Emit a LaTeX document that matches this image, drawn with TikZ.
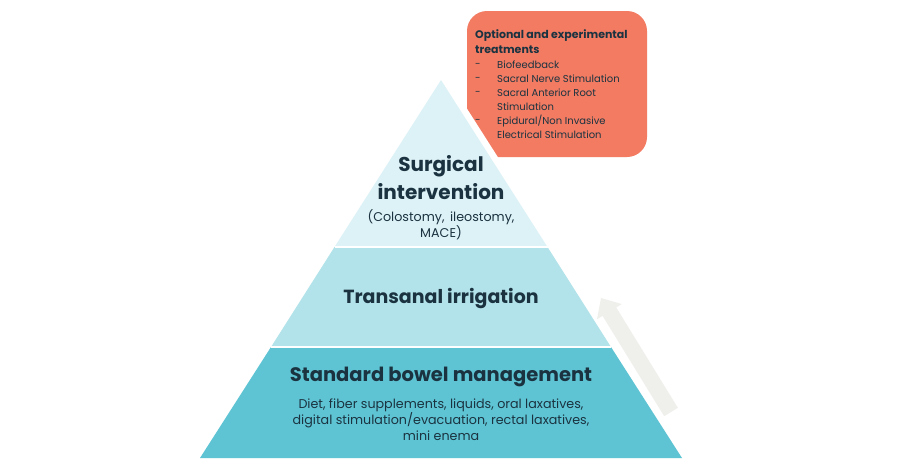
\documentclass[tikz,border=0pt]{standalone}
\usepackage{fontspec}
\setmainfont{Poppins}
\usetikzlibrary{arrows.meta, positioning}
\definecolor{tiertop}{HTML}{DDF2F7}
\definecolor{tiermid}{HTML}{B3E3EA}
\definecolor{tierlow}{HTML}{5EC4D4}
\definecolor{boxred}{HTML}{F27B62}
\definecolor{inkdark}{HTML}{1B3340}
\definecolor{arrowgray}{HTML}{EFEFEB}

\tikzset{
  tiertitle/.style={font=\bfseries\fontsize{19.5}{26}\selectfont, text=inkdark, align=center, inner sep=0pt},
  tiertext/.style={font=\fontsize{12.7}{16}\selectfont, text=inkdark, align=center, inner sep=0pt},
  listitem/.style={font=\fontsize{10}{12}\selectfont, text=inkdark, anchor=west, inner sep=0pt}
}

\begin{document}
\begin{tikzpicture}[x=1pt, y=-1pt]
				\useasboundingbox[fill=white] (0,0) rectangle (900,466);

				% optional treatments box (behind the pyramid)
				\fill[boxred, rounded corners=20] (467,11) rectangle (647,157);
				\node[font=\bfseries\fontsize{11}{15}\selectfont, text=inkdark, anchor=north west, align=left, inner sep=0pt]
				  (opttitle) at (475,29) {Optional and experimental\\treatments};
				\node[listitem] (optone) at (475,65) {-};
				\node[listitem] (opttwo) at (475,79) {-};
				\node[listitem] (optthree) at (475,93) {-};
				\node[listitem] (optfour) at (475,121) {-};
				\node[listitem] (bio) at (497,65) {Biofeedback};
				\node[listitem] (sns) at (497,79) {Sacral Nerve Stimulation};
				\node[listitem] (sar) at (497,93) {Sacral Anterior Root};
				\node[listitem] (sartwo) at (497,107) {Stimulation};
				\node[listitem] (epi) at (497,121) {Epidural/Non Invasive};
				\node[listitem] (epitwo) at (497,135) {Electrical Stimulation};

				% pyramid
				\coordinate (apex) at (441,80);
				\coordinate (baseleft) at (200,458);
				\coordinate (baseright) at (682,458);
				\draw[white, fill=white, line width=13, line join=round] (apex) -- (baseleft) -- (baseright) -- cycle;
				\fill[tiertop] (apex) -- (334.5,247) -- (547.5,247) -- cycle;
				\fill[tiermid] (334.5,247) -- (271,347) -- (611,347) -- (547.5,247) -- cycle;
				\fill[tierlow] (271,347) -- (baseleft) -- (baseright) -- (611,347) -- cycle;
				\draw[white, line width=2] (334.5,247) -- (547.5,247);
				\draw[white, line width=2] (271,347) -- (611,347);

				\node[tiertitle, font=\bfseries\fontsize{20}{28}\selectfont] (surgical) at (441,178) {Surgical\\intervention};
				\node[tiertext] (surgicaltext) at (441,225) {(Colostomy,\, ileostomy,\\MACE)};
				\node[tiertitle, font=\bfseries\fontsize{19}{26}\selectfont] (transanal) at (441,298) {Transanal irrigation};
				\node[tiertitle] (standard) at (441,377) {Standard bowel management};
				\node[tiertext] (standardtext) at (441,420) {Diet, fiber supplements, liquids, oral laxatives,\\digital stimulation/evacuation, rectal laxatives,\\mini enema};

				% upward arrow
				\coordinate (arrowtail) at (671,412);
				\coordinate (arrowtip) at (601,298);
				\draw[arrowgray, line width=16, -{Triangle[length=16, width=28]}] (arrowtail) -- (arrowtip);

			\end{tikzpicture}
\end{document}
